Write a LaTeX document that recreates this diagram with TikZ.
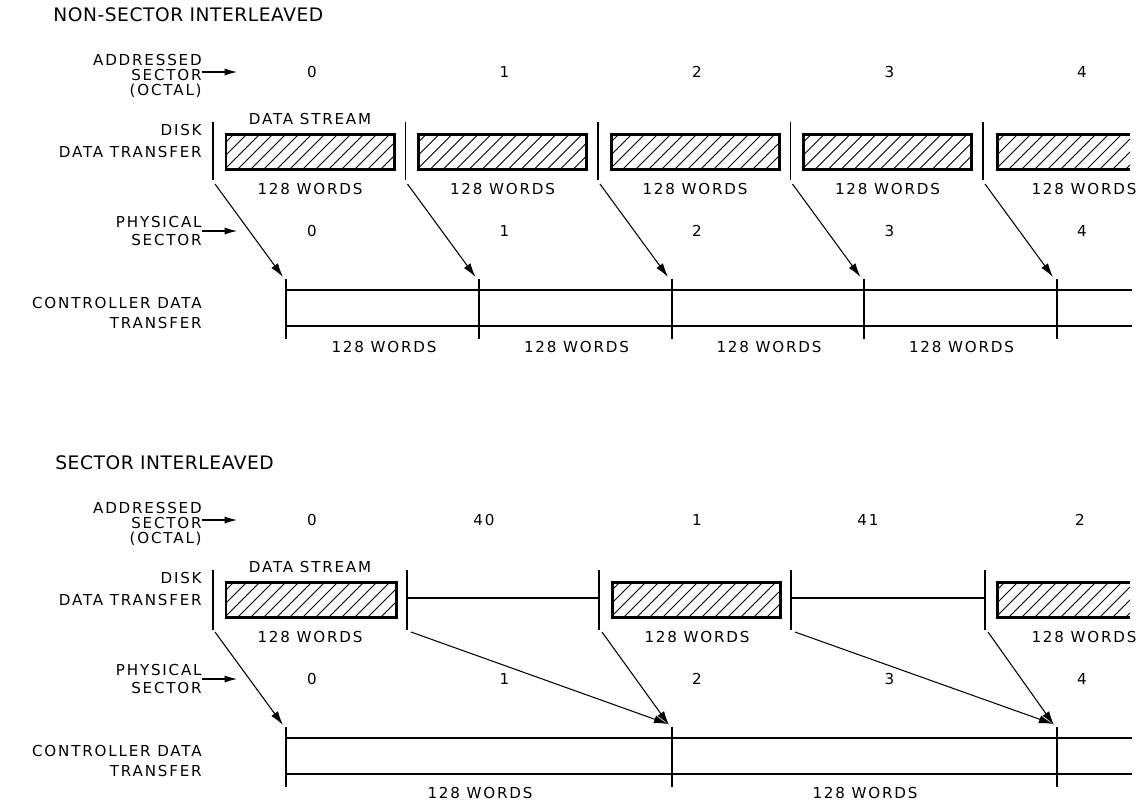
\documentclass[tikz,border=0pt]{standalone}
\usepackage{fontspec}
\newfontfamily\lettering[LetterSpace=12]{DejaVu Sans}
\newfontfamily\titlefont[LetterSpace=3]{DejaVu Sans}
\usetikzlibrary{positioning,calc,arrows.meta}

\tikzset{
  lbl/.style={font=\lettering\fontsize{8.6}{8.4}\selectfont, inner sep=0pt},
  sidelbl/.style={lbl, align=right, anchor=east},
  ttl/.style={font=\titlefont\fontsize{10.6}{12}\selectfont, anchor=west, inner sep=0pt},
  tick/.style={line width=0.9pt},
  bar/.style={line width=1.1pt},
  boxline/.style={line width=1.7pt},
  hatch/.style={line width=0.5pt},
  xfer/.style={line width=0.6pt, -{Latex[length=8pt,width=4.6pt]}},
  pointer/.style={line width=0.6pt, -{Latex[length=7pt,width=4pt]}}
}

% hatched block: x1, x2, top, bottom (px)
\newcommand{\hatchbox}[4]{%
  \begin{scope}
    \clip (#1,#3) rectangle (#2,#4);
    \foreach \h in {0,13,...,208} \draw[hatch] (#1-40+\h,#4) -- ++(45,-45);
  \end{scope}
}

\begin{document}
\begin{tikzpicture}[x=0.02cm,y=-0.02cm]
\useasboundingbox (0,0) rectangle (1148,806);

% ---- non-sector interleaved ----
\node[ttl] (tTitle) at (53,15) {NON-SECTOR INTERLEAVED};
\node[sidelbl] (tAddr) at (202,76) {ADDRESSED\\SECTOR\\(OCTAL)};
\coordinate (tAddrTip) at (237,72);
\draw[pointer] (tAddr.east |- tAddrTip) -- (tAddrTip);
\foreach \i in {0,...,4} {
    \node[lbl] (tA\i) at (312+192.5*\i,72) {\i};
}

\node[sidelbl] (tDisk) at (202,141) {DISK\\[4pt]DATA TRANSFER};
\node[lbl] (tStream) at (310,119) {DATA STREAM};
\foreach \i in {0,...,3} {
    \draw[tick] (213+192.5*\i,122) -- (213+192.5*\i,180);
    \hatchbox{226+192.5*\i}{394+192.5*\i}{134}{169}
    \draw[boxline] (226+192.5*\i,134) rectangle (394+192.5*\i,169);
    \node[lbl] (tW\i) at (310+192.5*\i,189) {128 WORDS};
}
\draw[tick] (983,122) -- (983,180);
\hatchbox{997}{1130}{134}{169}
\draw[boxline] (1130,134) -- (997,134) -- (997,169) -- (1130,169);
\node[lbl] (tW4) at (1084,189) {128 WORDS};

\node[sidelbl] (tPhys) at (202,231) {PHYSICAL\\[2pt]SECTOR};
\coordinate (tPhysTip) at (237,231);
\draw[pointer] (tPhys.east |- tPhysTip) -- (tPhysTip);
\foreach \i in {0,...,4} {
    \node[lbl] (tP\i) at (312+192.5*\i,231) {\i};
}

% controller side
\node[sidelbl] (tCtrl) at (202,313) {CONTROLLER DATA\\[2.5pt]TRANSFER};
\draw[bar] (286,290) -- (1132,290);
\draw[bar] (286,326) -- (1132,326);
\draw[line width=1.3pt] (286,279) -- (286,339);
\foreach \x in {479,672,864,1057} {
    \draw[tick] (\x,279) -- (\x,339);
}
\foreach \i in {0,...,3} {
    \node[lbl] (tCW\i) at (384+192.5*\i,347) {128 WORDS};
}
\foreach \i in {0,...,4} {
    \coordinate (tD\i) at (215+192.5*\i,184);
    \coordinate (tC\i) at (283+192.5*\i,277);
    \draw[xfer] (tD\i) -- (tC\i);
}

% ---- sector interleaved ----
\node[ttl] (bTitle) at (55,463) {SECTOR INTERLEAVED};
\node[sidelbl] (bAddr) at (202,524) {ADDRESSED\\SECTOR\\(OCTAL)};
\coordinate (bAddrTip) at (237,520);
\draw[pointer] (bAddr.east |- bAddrTip) -- (bAddrTip);
\foreach \x/\n in {312/0,484/40,697/1,868/41,1080/2} {
    \node[lbl] (bA\n) at (\x,520) {\n};
}

\node[sidelbl] (bDisk) at (202,589) {DISK\\[4pt]DATA TRANSFER};
\node[lbl] (bStream) at (310,567) {DATA STREAM};
\foreach \x in {213,407,599,791,985} {
    \draw[tick] (\x,570) -- (\x,630);
}
\foreach \a/\b in {226/396,612/780} {
    \hatchbox{\a}{\b}{582}{617}
    \draw[boxline] (\a,582) rectangle (\b,617);
}
\hatchbox{997}{1130}{582}{617}
\draw[boxline] (1130,582) -- (997,582) -- (997,617) -- (1130,617);
\draw[bar] (407,598) -- (599,598);
\draw[bar] (791,598) -- (985,598);
\node[lbl] (bW0) at (310,637) {128 WORDS};
\node[lbl] (bW1) at (697,637) {128 WORDS};
\node[lbl] (bW2) at (1084,637) {128 WORDS};

\node[sidelbl] (bPhys) at (202,679) {PHYSICAL\\[2pt]SECTOR};
\coordinate (bPhysTip) at (237,679);
\draw[pointer] (bPhys.east |- bPhysTip) -- (bPhysTip);
\foreach \i in {0,...,4} {
    \node[lbl] (bP\i) at (312+192.5*\i,679) {\i};
}

% controller side
\node[sidelbl] (bCtrl) at (202,761) {CONTROLLER DATA\\[2.5pt]TRANSFER};
\draw[bar] (286,738) -- (1132,738);
\draw[bar] (286,774) -- (1132,774);
\draw[line width=1.3pt] (286,727) -- (286,787);
\draw[tick] (672,727) -- (672,787);
\draw[tick] (1057,727) -- (1057,787);
\node[lbl] (bCW0) at (480,793) {128 WORDS};
\node[lbl] (bCW1) at (865,793) {128 WORDS};

\coordinate (bD0) at (215,632);
\coordinate (bD1) at (411,632);
\coordinate (bD2) at (602,632);
\coordinate (bD3) at (795,632);
\coordinate (bD4) at (988,632);
\coordinate (bC0) at (283,725);
\coordinate (bC1) at (668,724);
\coordinate (bC2) at (669,725);
\coordinate (bC3) at (1053,724);
\coordinate (bC4) at (1054,725);
\foreach \i in {0,...,4} {
    \draw[xfer] (bD\i) -- (bC\i);
}
\end{tikzpicture}
\end{document}
